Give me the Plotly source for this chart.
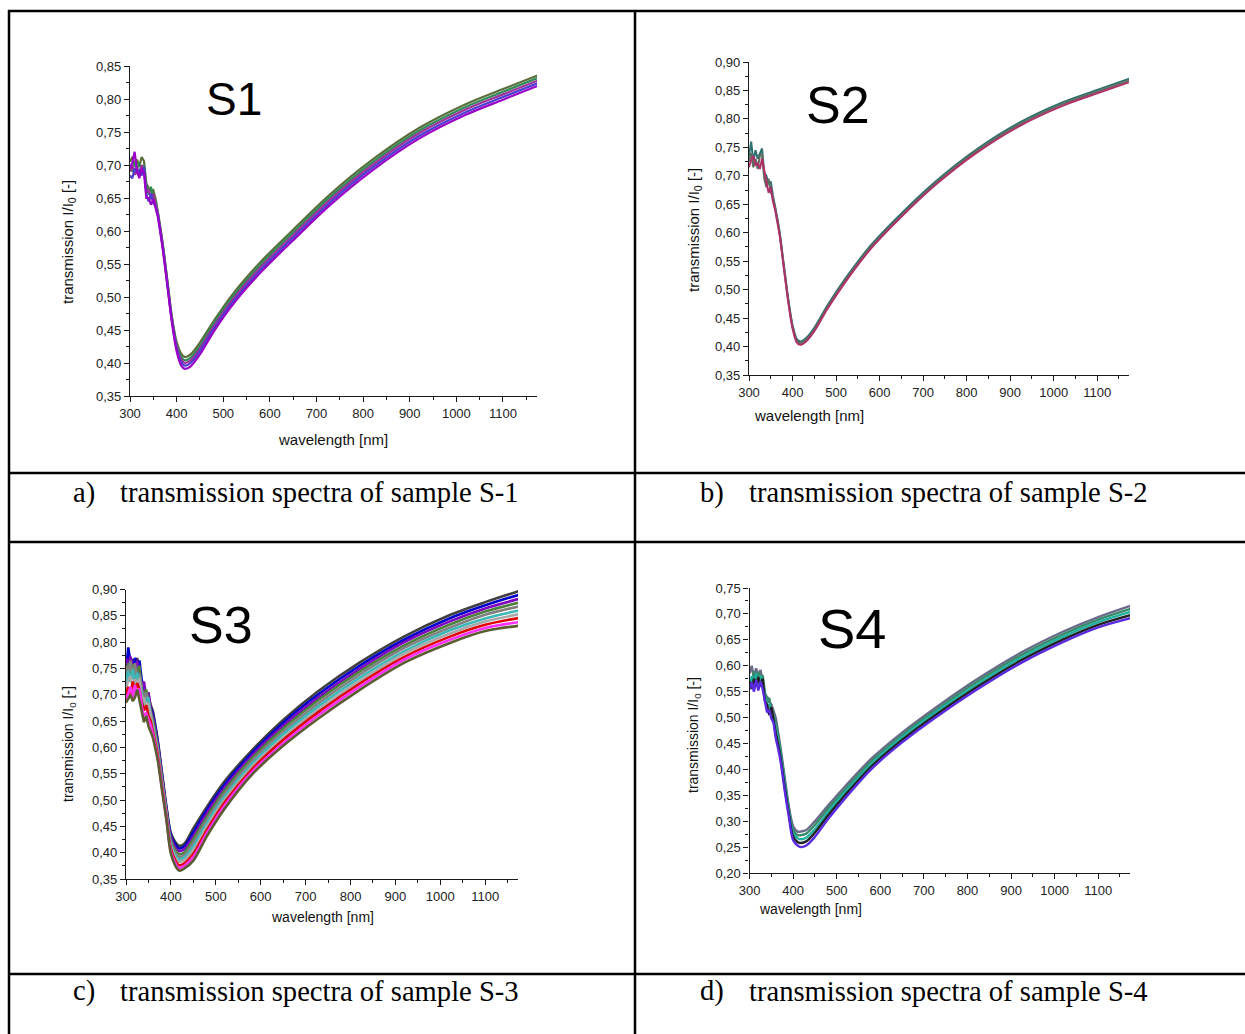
import plotly.graph_objects as go

# ---------------------------------------------------------------------------
# Data: transmission spectra (I/I0) vs wavelength for samples S-1 ... S-4
# Every row of a SPECTRA list is one measured spectrum on the WAVELENGTH grid.
# ---------------------------------------------------------------------------
WAVELENGTH = [300, 305, 310, 315, 320, 325, 330, 335, 340, 345, 350, 355,
              360, 370, 380, 390, 400, 410, 418, 430, 450, 480, 520, 580,
              650, 730, 820, 920, 1020, 1100, 1175]
UV_END = 12  # index of 360 nm: below it the detector signal is noisy

S1_SPECTRA = [
    [0.705, 0.712, 0.700, 0.708, 0.698, 0.712, 0.706, 0.672, 0.665, 0.660, 0.662, 0.648,
     0.628, 0.582, 0.526, 0.470, 0.432, 0.414, 0.409, 0.413, 0.431, 0.464, 0.504, 0.553,
     0.602, 0.656, 0.708, 0.756, 0.792, 0.815, 0.836],
    [0.698, 0.690, 0.705, 0.695, 0.703, 0.690, 0.700, 0.668, 0.655, 0.667, 0.650, 0.645,
     0.626, 0.580, 0.524, 0.467, 0.428, 0.409, 0.404, 0.408, 0.426, 0.460, 0.500, 0.549,
     0.598, 0.652, 0.704, 0.752, 0.788, 0.811, 0.832],
    [0.690, 0.700, 0.685, 0.697, 0.685, 0.700, 0.692, 0.660, 0.662, 0.648, 0.656, 0.640,
     0.625, 0.578, 0.522, 0.465, 0.425, 0.405, 0.400, 0.404, 0.422, 0.456, 0.496, 0.545,
     0.594, 0.648, 0.700, 0.748, 0.784, 0.807, 0.828],
    [0.684, 0.680, 0.695, 0.688, 0.692, 0.684, 0.697, 0.655, 0.645, 0.657, 0.642, 0.638,
     0.623, 0.576, 0.520, 0.463, 0.422, 0.401, 0.396, 0.400, 0.418, 0.452, 0.492, 0.541,
     0.590, 0.644, 0.696, 0.744, 0.780, 0.803, 0.824],
    [0.695, 0.704, 0.720, 0.690, 0.680, 0.695, 0.688, 0.650, 0.650, 0.640, 0.648, 0.632,
     0.621, 0.574, 0.518, 0.461, 0.418, 0.396, 0.391, 0.395, 0.413, 0.448, 0.488, 0.537,
     0.586, 0.640, 0.692, 0.740, 0.776, 0.799, 0.820],
]
S1_COLORS = ["#5a6e3a", "#2e8b57", "#a0309a", "#4b3fd0", "#9a00c8"]

S2_SPECTRA = [
    [0.735, 0.760, 0.725, 0.745, 0.730, 0.740, 0.748, 0.705, 0.700, 0.685, 0.690, 0.665,
     0.646, 0.603, 0.544, 0.485, 0.438, 0.413, 0.409, 0.414, 0.433, 0.472, 0.518, 0.578,
     0.634, 0.691, 0.745, 0.793, 0.829, 0.851, 0.871],
    [0.725, 0.740, 0.715, 0.730, 0.712, 0.735, 0.738, 0.695, 0.680, 0.695, 0.672, 0.660,
     0.643, 0.600, 0.541, 0.482, 0.435, 0.410, 0.406, 0.411, 0.430, 0.469, 0.515, 0.575,
     0.631, 0.688, 0.742, 0.790, 0.826, 0.848, 0.868],
    [0.715, 0.728, 0.735, 0.718, 0.722, 0.712, 0.730, 0.710, 0.688, 0.670, 0.680, 0.655,
     0.640, 0.597, 0.538, 0.479, 0.432, 0.407, 0.403, 0.408, 0.427, 0.466, 0.512, 0.572,
     0.628, 0.685, 0.739, 0.787, 0.823, 0.845, 0.865],
]
S2_COLORS = ["#2f7070", "#5e6e5e", "#b0306a"]

S3_SPECTRA = [
    [0.760, 0.775, 0.750, 0.768, 0.752, 0.770, 0.745, 0.720, 0.705, 0.690, 0.700, 0.680,
     0.669, 0.618, 0.553, 0.488, 0.437, 0.420, 0.413, 0.417, 0.446, 0.487, 0.536, 0.594,
     0.652, 0.708, 0.761, 0.811, 0.851, 0.876, 0.897],
    [0.745, 0.790, 0.762, 0.740, 0.770, 0.758, 0.765, 0.728, 0.712, 0.700, 0.690, 0.675,
     0.663, 0.614, 0.549, 0.485, 0.433, 0.415, 0.408, 0.412, 0.439, 0.481, 0.530, 0.589,
     0.647, 0.702, 0.755, 0.805, 0.845, 0.870, 0.890],
    [0.770, 0.750, 0.772, 0.755, 0.740, 0.765, 0.735, 0.715, 0.725, 0.695, 0.705, 0.672,
     0.658, 0.609, 0.546, 0.482, 0.428, 0.410, 0.403, 0.407, 0.432, 0.475, 0.524, 0.584,
     0.641, 0.696, 0.749, 0.800, 0.839, 0.864, 0.882],
    [0.735, 0.760, 0.740, 0.758, 0.735, 0.745, 0.755, 0.705, 0.700, 0.710, 0.685, 0.668,
     0.652, 0.605, 0.542, 0.479, 0.424, 0.405, 0.397, 0.401, 0.426, 0.468, 0.519, 0.579,
     0.636, 0.691, 0.744, 0.794, 0.833, 0.858, 0.875],
    [0.755, 0.738, 0.765, 0.730, 0.760, 0.728, 0.740, 0.712, 0.690, 0.705, 0.680, 0.665,
     0.646, 0.601, 0.538, 0.476, 0.420, 0.400, 0.392, 0.396, 0.419, 0.462, 0.513, 0.574,
     0.630, 0.685, 0.738, 0.789, 0.827, 0.852, 0.868],
    [0.720, 0.745, 0.725, 0.748, 0.722, 0.742, 0.725, 0.700, 0.680, 0.690, 0.695, 0.660,
     0.641, 0.596, 0.535, 0.474, 0.415, 0.395, 0.387, 0.391, 0.412, 0.456, 0.507, 0.568,
     0.625, 0.679, 0.732, 0.783, 0.822, 0.845, 0.860],
    [0.710, 0.728, 0.735, 0.712, 0.730, 0.715, 0.732, 0.690, 0.695, 0.672, 0.685, 0.655,
     0.635, 0.592, 0.531, 0.471, 0.411, 0.390, 0.382, 0.386, 0.405, 0.450, 0.501, 0.563,
     0.619, 0.673, 0.726, 0.778, 0.816, 0.839, 0.853],
    [0.700, 0.715, 0.700, 0.725, 0.705, 0.722, 0.710, 0.685, 0.670, 0.680, 0.660, 0.650,
     0.629, 0.588, 0.527, 0.468, 0.407, 0.385, 0.376, 0.380, 0.398, 0.443, 0.496, 0.558,
     0.614, 0.668, 0.721, 0.772, 0.810, 0.833, 0.846],
    [0.690, 0.705, 0.715, 0.695, 0.718, 0.700, 0.712, 0.678, 0.660, 0.665, 0.655, 0.642,
     0.624, 0.583, 0.524, 0.465, 0.402, 0.380, 0.371, 0.375, 0.392, 0.437, 0.490, 0.553,
     0.608, 0.662, 0.715, 0.767, 0.804, 0.827, 0.838],
    [0.685, 0.692, 0.700, 0.688, 0.695, 0.710, 0.690, 0.670, 0.648, 0.660, 0.640, 0.630,
     0.618, 0.579, 0.520, 0.462, 0.398, 0.375, 0.366, 0.370, 0.385, 0.431, 0.484, 0.548,
     0.603, 0.656, 0.709, 0.761, 0.798, 0.821, 0.831],
]
S3_COLORS = ["#404040", "#0000cc", "#8000c0", "#4f7f3f", "#808080",
             "#3cb8b8", "#a8a8a8", "#e00000", "#ff30ff", "#5c5c30"]

S4_SPECTRA = [
    [0.585, 0.600, 0.575, 0.595, 0.580, 0.592, 0.570, 0.545, 0.540, 0.530, 0.525, 0.510,
     0.500, 0.447, 0.388, 0.329, 0.290, 0.280, 0.280, 0.283, 0.300, 0.330, 0.368, 0.421,
     0.471, 0.521, 0.573, 0.624, 0.666, 0.694, 0.716],
    [0.575, 0.565, 0.590, 0.570, 0.588, 0.575, 0.582, 0.550, 0.530, 0.538, 0.515, 0.505,
     0.490, 0.441, 0.382, 0.324, 0.283, 0.273, 0.273, 0.276, 0.293, 0.324, 0.362, 0.416,
     0.466, 0.516, 0.568, 0.619, 0.661, 0.689, 0.710],
    [0.560, 0.580, 0.565, 0.585, 0.560, 0.580, 0.565, 0.540, 0.522, 0.525, 0.510, 0.500,
     0.480, 0.434, 0.375, 0.319, 0.277, 0.267, 0.265, 0.268, 0.285, 0.317, 0.357, 0.411,
     0.462, 0.512, 0.563, 0.614, 0.656, 0.684, 0.704],
    [0.570, 0.555, 0.575, 0.560, 0.578, 0.560, 0.575, 0.532, 0.525, 0.505, 0.520, 0.495,
     0.470, 0.428, 0.369, 0.314, 0.270, 0.260, 0.258, 0.261, 0.278, 0.311, 0.351, 0.406,
     0.457, 0.507, 0.558, 0.609, 0.651, 0.679, 0.698],
    [0.555, 0.568, 0.550, 0.572, 0.552, 0.570, 0.555, 0.528, 0.510, 0.515, 0.498, 0.490,
     0.460, 0.421, 0.362, 0.309, 0.263, 0.253, 0.250, 0.253, 0.270, 0.304, 0.345, 0.401,
     0.452, 0.502, 0.553, 0.604, 0.646, 0.674, 0.692],
]
S4_COLORS = ["#6a6a8a", "#3a8a6a", "#20b0a0", "#202020", "#5a2ae0"]

SAMPLE_TAGS = ["S1", "S2", "S3", "S4"]
CAPTION_LETTERS = ["a)", "b)", "c)", "d)"]
CAPTIONS = ["transmission spectra of sample S-1",
            "transmission spectra of sample S-2",
            "transmission spectra of sample S-3",
            "transmission spectra of sample S-4"]
Y_RANGES = [(0.35, 0.85), (0.35, 0.90), (0.35, 0.90), (0.20, 0.75)]
X_RANGE = (300, 1173)

# ---------------------------------------------------------------------------
# Page geometry (pixels) for the 2x2 table of figures with captions
# ---------------------------------------------------------------------------
FIG_W, FIG_H = 1245, 1034


def px(x):
    return x / FIG_W


def py(y):
    return 1 - y / FIG_H


PANELS = [
    dict(spectra=S1_SPECTRA, colors=S1_COLORS, lw=2.2,
         box=(130, 537, 66, 396), tag_xy=(234, 99), tag_size=46,
         ytitle_xy=(68, 242), xtitle_xy=(333, 440), title_size=15,
         cap_xy=(71, 118, 493)),
    dict(spectra=S2_SPECTRA, colors=S2_COLORS, lw=2.0,
         box=(749, 1129, 62, 375), tag_xy=(838, 105), tag_size=52,
         ytitle_xy=(695, 230), xtitle_xy=(809, 415), title_size=15,
         cap_xy=(698, 747, 493)),
    dict(spectra=S3_SPECTRA, colors=S3_COLORS, lw=2.6,
         box=(126, 518, 589.5, 879), tag_xy=(221, 625), tag_size=52,
         ytitle_xy=(69, 744), xtitle_xy=(322, 917), title_size=14,
         cap_xy=(71, 118, 991)),
    dict(spectra=S4_SPECTRA, colors=S4_COLORS, lw=2.4,
         box=(749.6, 1130, 588, 873), tag_xy=(852, 628), tag_size=56,
         ytitle_xy=(694, 735), xtitle_xy=(810, 909), title_size=14,
         cap_xy=(698, 747, 991)),
]

AXIS_COLOR = "#1a1a1a"
TICK_FONT = dict(family="Liberation Sans, Arial, sans-serif", size=13, color="#222222")
SANS = "Liberation Sans, Arial, sans-serif"
SERIF = "Liberation Serif, Times New Roman, serif"
CAPTION_SIZE = 28.6

fig = go.Figure()
annotations = []
layout_axes = {}

for k, (panel, tag, letter, caption, yr) in enumerate(
        zip(PANELS, SAMPLE_TAGS, CAPTION_LETTERS, CAPTIONS, Y_RANGES), start=1):
    xref = "x" if k == 1 else f"x{k}"
    yref = "y" if k == 1 else f"y{k}"
    x0, x1, ytop, ybot = panel["box"]

    for row, color in zip(panel["spectra"], panel["colors"]):
        line = dict(color=color, width=panel["lw"])
        # noisy UV part: straight segments between the samples
        fig.add_trace(go.Scatter(
            x=WAVELENGTH[:UV_END + 1], y=row[:UV_END + 1], mode="lines",
            line=dict(line, shape="linear"),
            xaxis=xref, yaxis=yref, showlegend=False, hoverinfo="skip"))
        # smooth visible/NIR part
        fig.add_trace(go.Scatter(
            x=WAVELENGTH[UV_END:], y=row[UV_END:], mode="lines",
            line=dict(line, shape="spline", smoothing=0.9),
            xaxis=xref, yaxis=yref, showlegend=False, hoverinfo="skip"))

    common = dict(showline=True, linecolor=AXIS_COLOR, linewidth=1.3,
                  ticks="outside", ticklen=5, tickwidth=1.2, tickcolor=AXIS_COLOR,
                  showgrid=False, zeroline=False, mirror=False, automargin=False,
                  tickfont=TICK_FONT, fixedrange=True)
    layout_axes["xaxis" if k == 1 else f"xaxis{k}"] = dict(
        common, domain=[px(x0), px(x1)], range=list(X_RANGE),
        anchor=yref, tick0=300, dtick=100, tickformat="d",
        minor=dict(ticks="outside", ticklen=3, tickwidth=1.0,
                   tickcolor=AXIS_COLOR, tick0=300, dtick=50, showgrid=False))
    layout_axes["yaxis" if k == 1 else f"yaxis{k}"] = dict(
        common, domain=[py(ybot), py(ytop)], range=list(yr),
        anchor=xref, tick0=0, dtick=0.05, tickformat=".2f",
        minor=dict(ticks="outside", ticklen=3, tickwidth=1.0,
                   tickcolor=AXIS_COLOR, dtick=0.025, showgrid=False))

    # sample tag inside the plot
    annotations.append(dict(
        x=px(panel["tag_xy"][0]), y=py(panel["tag_xy"][1]), xref="paper", yref="paper",
        text=tag, showarrow=False, xanchor="center", yanchor="middle",
        font=dict(family=SANS, size=panel["tag_size"], color="black")))
    # axis titles
    annotations.append(dict(
        x=px(panel["ytitle_xy"][0]), y=py(panel["ytitle_xy"][1]), xref="paper", yref="paper",
        text="transmission I/I<sub>0</sub> [-]", textangle=-90, showarrow=False,
        xanchor="center", yanchor="middle",
        font=dict(family=SANS, size=panel["title_size"], color="#111111")))
    annotations.append(dict(
        x=px(panel["xtitle_xy"][0]), y=py(panel["xtitle_xy"][1]), xref="paper", yref="paper",
        text="wavelength [nm]", showarrow=False, xanchor="center", yanchor="middle",
        font=dict(family=SANS, size=panel["title_size"], color="#111111")))
    # caption below the figure
    lx, tx, cy = panel["cap_xy"]
    annotations.append(dict(
        x=px(lx), y=py(cy), xref="paper", yref="paper", text=letter, showarrow=False,
        xanchor="left", yanchor="middle",
        font=dict(family=SERIF, size=CAPTION_SIZE, color="black")))
    annotations.append(dict(
        x=px(tx), y=py(cy), xref="paper", yref="paper", text=caption, showarrow=False,
        xanchor="left", yanchor="middle",
        font=dict(family=SERIF, size=CAPTION_SIZE, color="black")))

# table rules
TABLE_LEFT, TABLE_TOP, TABLE_MID = 9, 11, 635
ROW_RULES = [11, 473, 542, 974]
shapes = []
for yy in ROW_RULES:
    shapes.append(dict(type="line", xref="paper", yref="paper",
                       x0=px(TABLE_LEFT - 1), x1=1.02, y0=py(yy), y1=py(yy),
                       line=dict(color="black", width=2.5)))
for xx in (TABLE_LEFT, TABLE_MID):
    shapes.append(dict(type="line", xref="paper", yref="paper",
                       x0=px(xx), x1=px(xx), y0=py(TABLE_TOP - 1), y1=-0.02,
                       line=dict(color="black", width=2.5)))

fig.update_layout(
    template="none",
    width=FIG_W, height=FIG_H,
    autosize=False,
    margin=dict(l=0, r=0, t=0, b=0, pad=0, autoexpand=False),
    paper_bgcolor="white", plot_bgcolor="white",
    separators=", ",
    font=dict(family=SANS, color="#222222"),
    annotations=annotations, shapes=shapes,
    **layout_axes,
)

# let the figure sit flush against the page edges
fig.write_html(
    "out.html",
    post_script="document.body.style.margin='0';document.body.style.overflow='hidden';",
)
